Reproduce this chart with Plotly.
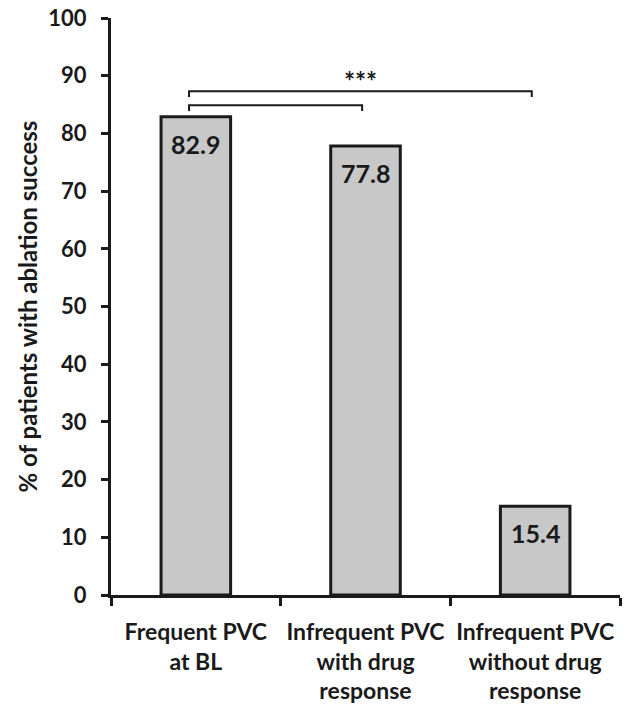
import plotly.graph_objects as go

categories = ["Frequent PVC<br>at BL", "Infrequent PVC<br>with drug<br>response", "Infrequent PVC<br>without drug<br>response"]
values = [82.9, 77.8, 15.4]
value_labels = ["82.9", "77.8", "15.4"]
y_ticks = [0, 10, 20, 30, 40, 50, 60, 70, 80, 90, 100]

# significance brackets: (x start, x end, y level, drop)
brackets = [(-0.04, 1.98, 87.3, 1.0), (-0.04, 0.98, 84.9, 1.0)]
sig_label = "***"
sig_pos = (0.97, 89.0)

FONT = "Lato"
INK = "#1a1a1a"
fig = go.Figure()
fig.add_trace(go.Bar(
    x=categories, y=values,
    marker=dict(color="#c8c8c8", line=dict(color=INK, width=3)),
    width=0.41,
))

for xs, xe, yl, d in brackets:
    fig.add_shape(type="path",
                  path=f"M {xs},{yl-d} L {xs},{yl} L {xe},{yl} L {xe},{yl-d}",
                  xref="x", yref="y", line=dict(color=INK, width=2))

fig.add_annotation(x=sig_pos[0], y=sig_pos[1], text=f"<b>{sig_label}</b>", showarrow=False,
                   font=dict(family=FONT, size=26, color=INK), yanchor="middle")

for i, (v, t) in enumerate(zip(values, value_labels)):
    fig.add_annotation(x=i, y=v, text=f"<b>{t}</b>", showarrow=False, yanchor="middle",
                       yshift=-27, font=dict(family=FONT, size=25, color=INK))

fig.update_layout(
    width=631, height=704,
    margin=dict(l=111, r=11, t=18, b=109),
    plot_bgcolor="white", paper_bgcolor="white",
    showlegend=False,
    font=dict(family=FONT, color=INK),
)
fig.update_xaxes(
    type="category", range=[-0.5, 2.5], automargin=False, tickangle=0,
    tickmode="array", tickvals=categories,
    ticktext=[f"<b>{c}</b>" for c in categories],
    showline=True, linecolor=INK, linewidth=3,
    ticks="outside", tickson="boundaries", ticklen=8, tickwidth=3, tickcolor=INK,
    tickfont=dict(family=FONT, size=23, color=INK),
    showgrid=False, zeroline=False, ticklabelstandoff=14,
)
fig.update_yaxes(
    range=[0, 100], tickmode="array", tickvals=y_ticks, automargin=False,
    ticktext=[f"<b>{t}</b>" for t in y_ticks],
    showline=True, linecolor=INK, linewidth=3,
    ticks="outside", ticklen=7, tickwidth=3, tickcolor=INK,
    tickfont=dict(family=FONT, size=22, color=INK),
    showgrid=False, zeroline=False, ticklabelstandoff=10,
    title=dict(text="<b>% of patients with ablation success</b>",
               font=dict(family=FONT, size=24, color=INK), standoff=4),
)

fig.write_html("out.html")
